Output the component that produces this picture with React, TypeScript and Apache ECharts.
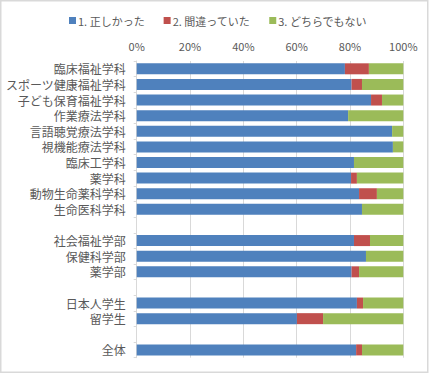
import React, { useEffect, useRef } from "react";
import * as echarts from "echarts";

const categories = [
  "臨床福祉学科",
  "スポーツ健康福祉学科",
  "子ども保育福祉学科",
  "作業療法学科",
  "言語聴覚療法学科",
  "視機能療法学科",
  "臨床工学科",
  "薬学科",
  "動物生命薬科学科",
  "生命医科学科",
  "",
  "社会福祉学部",
  "保健科学部",
  "薬学部",
  " ",
  "日本人学生",
  "留学生",
  "  ",
  "全体",
];

const correct = [78.1, 80.6, 87.9, 79.3, 95.8, 96.1, 81.5, 80.4, 83.4, 84.5, null, 81.5, 86.0, 80.6, null, 82.6, 60.1, null, 82.3];
const wrong = [9.0, 3.9, 4.1, 0, 0, 0, 0, 2.2, 6.7, 0, null, 6.0, 0, 2.8, null, 2.3, 9.8, null, 2.2];
const unsure = [12.9, 15.5, 8.0, 20.7, 4.2, 3.9, 18.5, 17.4, 9.9, 15.5, null, 12.5, 14.0, 16.6, null, 15.1, 30.1, null, 15.5];

const seriesNames = ["1. 正しかった", "2. 間違っていた", "3. どちらでもない"];
const colors = ["#4F81BD", "#C0504D", "#9BBB59"];
const xTicks = [0, 20, 40, 60, 80, 100];

const FONT = "'Noto Sans CJK JP', 'Noto Sans', sans-serif";

export default function App() {
  const ref = useRef<HTMLDivElement>(null);
  useEffect(() => {
    if (!ref.current) return;
    const chart = echarts.init(ref.current, undefined, { renderer: "svg" });
    const data = [correct, wrong, unsure];
    chart.setOption({
      animation: false,
      backgroundColor: "#ffffff",
      textStyle: { fontFamily: FONT },
      graphic: [
        {
          type: "rect",
          shape: { x: 0.75, y: 0.75, width: 427, height: 371.5 },
          style: { fill: "none", stroke: "#d9d9d9", lineWidth: 1.5 },
          silent: true,
        },
      ],
      legend: {
        left: 64,
        top: 10,
        itemWidth: 7,
        itemHeight: 7,
        itemGap: 19,
        icon: "rect",
        textStyle: { color: "#595959", fontSize: 11, fontFamily: FONT, padding: [0, 0, 0, -3] },
        data: seriesNames,
      },
      grid: { left: 136.7, right: 27.7, top: 61, bottom: 16.3, containLabel: false },
      xAxis: {
        type: "value",
        position: "top",
        min: xTicks[0],
        max: xTicks[xTicks.length - 1],
        interval: 20,
        axisLine: { show: false },
        axisTick: { show: false },
        axisLabel: {
          formatter: "{value}%",
          color: "#595959",
          fontSize: 11,
          fontFamily: FONT,
          margin: 10,
        },
        splitLine: { show: true, lineStyle: { color: "#d9d9d9", width: 1 } },
      },
      yAxis: {
        type: "category",
        inverse: true,
        data: categories,
        axisLine: { show: true, lineStyle: { color: "#d9d9d9", width: 1 } },
        axisTick: { show: true, length: 3, interval: 0, lineStyle: { color: "#d9d9d9" } },
        axisLabel: {
          interval: 0,
          color: "#595959",
          fontSize: 12,
          fontFamily: FONT,
          margin: 11,
        },
      },
      series: seriesNames.map((name, i) => ({
        name,
        type: "bar",
        stack: "total",
        barWidth: 11,
        itemStyle: { color: colors[i] },
        data: data[i],
      })),
    });
    return () => chart.dispose();
  }, []);
  return (
    <div
      ref={ref}
      style={{ position: "absolute", left: 0, top: 0, width: 431, height: 374 }}
    />
  );
}
